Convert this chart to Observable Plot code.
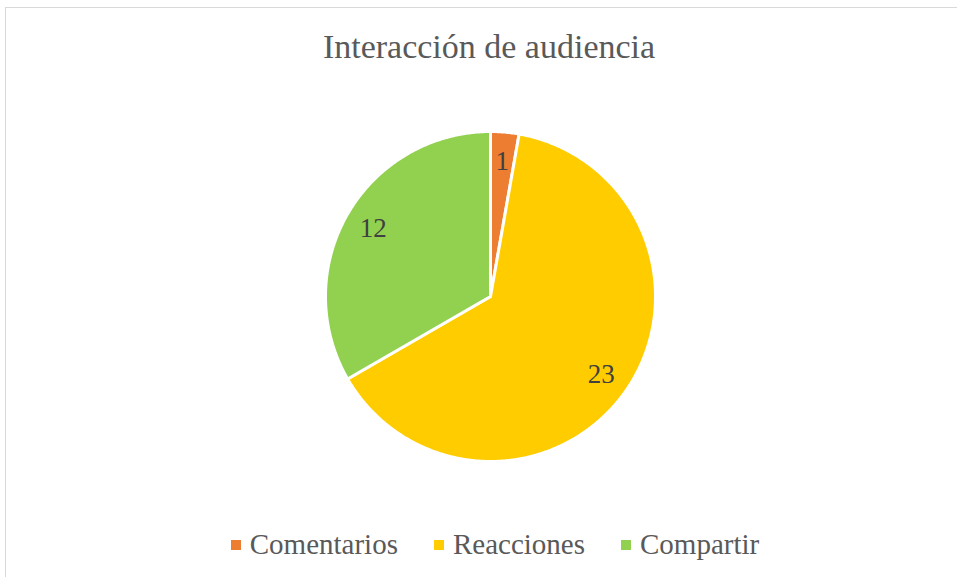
<!DOCTYPE html>
<html>
<head>
<meta charset="utf-8">
<script src="https://cdn.jsdelivr.net/npm/d3@7"></script>
<script src="https://cdn.jsdelivr.net/npm/@observablehq/plot@0.6"></script>
<style>
  html, body { margin: 0; padding: 0; background: #fff; width: 957px; height: 577px; overflow: hidden; }
  #frame { position: absolute; left: 5px; top: 7px; width: 1000px; height: 620px; border: 1px solid #d9d9d9; box-sizing: border-box; }
  #title { position: absolute; left: 0; width: 978px; top: 28px; text-align: center; font-family: "Liberation Serif", "DejaVu Serif", serif; font-size: 34px; color: #595959; }
  #chart { position: absolute; left: 0; top: 96px; }
  #legend { position: absolute; left: 0; top: 528px; width: 990px; display: flex; justify-content: center; font-family: "Liberation Serif", "DejaVu Serif", serif; font-size: 29px; color: #595959; }
  .item { display: flex; align-items: center; margin: 0 18px; }
  .sw { width: 10px; height: 10px; margin-right: 9px; }
</style>
</head>
<body>
<div id="frame"></div>
<div id="title">Interacción de audiencia</div>
<div id="chart"></div>
<div id="legend"></div>
<script>
const categories = ["Comentarios", "Reacciones", "Compartir"];
const values = [1, 23, 12];
const colors = ["#ED7D31", "#FFCC00", "#92D050"];

const arcs = d3.pie().sort(null).value((d, i) => values[i])(categories);

const points = [];
arcs.forEach(a => {
  const name = categories[a.index];
  points.push({name, x: 0, y: 0});
  const steps = Math.max(4, Math.ceil((a.endAngle - a.startAngle) / (Math.PI / 360)));
  for (let k = 0; k <= steps; k++) {
    const t = a.startAngle + (a.endAngle - a.startAngle) * k / steps;
    points.push({name, x: Math.sin(t), y: Math.cos(t)});
  }
});
const labels = arcs.map(a => {
  const m = (a.startAngle + a.endAngle) / 2;
  return {name: categories[a.index], value: a.value, x: 0.82 * Math.sin(m), y: 0.82 * Math.cos(m)};
});

const cx = 490, cy = 200, r = 165;
const plot = Plot.plot({
  width: 957,
  height: 400,
  margin: 0,
  style: {overflow: "visible"},
  x: {domain: [-1, 1], range: [cx - r, cx + r], axis: null},
  y: {domain: [-1, 1], range: [cy + r, cy - r], axis: null},
  color: {domain: categories, range: colors},
  marks: [
    Plot.line(points, {x: "x", y: "y", z: "name", fill: "name", stroke: "white", strokeWidth: 3, strokeLinejoin: "round", curve: "linear-closed"}),
    Plot.text(labels, {x: "x", y: "y", text: d => String(d.value), fill: "#404040", fontSize: 27, fontFamily: "'Liberation Serif', 'DejaVu Serif', serif"})
  ]
});
document.getElementById("chart").appendChild(plot);

const legend = document.getElementById("legend");
categories.forEach((c, i) => {
  const it = document.createElement("div");
  it.className = "item";
  const sw = document.createElement("div");
  sw.className = "sw";
  sw.style.background = colors[i];
  const tx = document.createElement("span");
  tx.textContent = c;
  it.appendChild(sw);
  it.appendChild(tx);
  legend.appendChild(it);
});
</script>
</body>
</html>
